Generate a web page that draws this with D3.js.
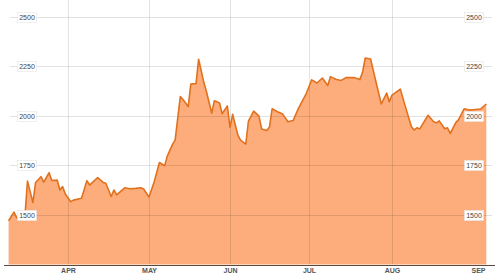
<!DOCTYPE html>
<html>
<head>
<meta charset="utf-8">
<script src="https://cdn.jsdelivr.net/npm/d3@7"></script>
<style>
  body { margin: 0; background: #fff; }
  text { font-family: "Liberation Sans", Arial, sans-serif; }
</style>
</head>
<body>
<div id="chart"></div>
<script>
// daily closes
const dates = [
  "2013-03-10","2013-03-12","2013-03-13","2013-03-16","2013-03-17","2013-03-19","2013-03-20","2013-03-22",
  "2013-03-23","2013-03-25","2013-03-26","2013-03-28","2013-03-29","2013-03-30","2013-03-31","2013-04-02",
  "2013-04-03","2013-04-06","2013-04-08","2013-04-09","2013-04-11","2013-04-12","2013-04-14","2013-04-15",
  "2013-04-17","2013-04-18","2013-04-19","2013-04-22","2013-04-24","2013-04-26","2013-04-28","2013-04-29",
  "2013-05-01","2013-05-03","2013-05-05","2013-05-07","2013-05-08","2013-05-10","2013-05-11","2013-05-13",
  "2013-05-14","2013-05-16","2013-05-17","2013-05-19","2013-05-20","2013-05-22","2013-05-23","2013-05-25",
  "2013-05-26","2013-05-28","2013-05-29","2013-05-31","2013-06-01","2013-06-02","2013-06-04","2013-06-05",
  "2013-06-07","2013-06-08","2013-06-10","2013-06-12","2013-06-13","2013-06-15","2013-06-16","2013-06-17",
  "2013-06-19","2013-06-21","2013-06-23","2013-06-25","2013-06-27","2013-06-30","2013-07-02","2013-07-04",
  "2013-07-06","2013-07-08","2013-07-09","2013-07-11","2013-07-13","2013-07-15","2013-07-18","2013-07-20",
  "2013-07-21","2013-07-22","2013-07-24","2013-07-26","2013-07-28","2013-07-30","2013-07-31","2013-08-01",
  "2013-08-04","2013-08-06","2013-08-08","2013-08-09","2013-08-10","2013-08-11","2013-08-14","2013-08-16",
  "2013-08-17","2013-08-18","2013-08-20","2013-08-21","2013-08-22","2013-08-24","2013-08-25","2013-08-27",
  "2013-08-29","2013-08-31","2013-09-02","2013-09-04"
];
const values = [
  1471,1514,1485,1485,1671,1563,1664,1693,
  1666,1713,1674,1676,1626,1643,1606,1567,
  1575,1584,1673,1651,1676,1689,1664,1660,
  1593,1626,1601,1637,1632,1634,1637,1631,
  1591,1668,1765,1749,1797,1856,1878,2098,
  2083,2047,2161,2163,2286,2168,2122,2014,
  2076,2065,2011,2050,1942,2008,1903,1878,
  1858,1974,2024,1999,1934,1926,1944,2036,
  2021,2009,1970,1977,2038,2114,2182,2166,
  2191,2153,2198,2185,2179,2194,2193,2183,
  2220,2292,2287,2172,2060,2115,2071,2105,
  2135,2038,1945,1929,1940,1934,2003,1970,
  1965,1975,1935,1940,1912,1966,1981,2036,
  2029,2032,2035,2060
];
const yTicks = [1500, 1750, 2000, 2250, 2500];
const monthLabels = ["APR", "MAY", "JUN", "JUL", "AUG", "SEP"];
const monthDates = ["2013-04-01","2013-05-01","2013-06-01","2013-07-01","2013-08-01","2013-09-01"];

const width = 500, height = 277;
const parse = d3.timeParse("%Y-%m-%d");
const data = dates.map((d, i) => ({ date: parse(d), value: values[i] }));
const months = monthDates.map(parse);

// month spacing in the original is not quite even
const x = d3.scaleTime()
  .domain(months)
  .range([68, 149, 230, 309, 392, 478]);

const y = d3.scaleLinear()
  .domain([1250, 2500])
  .range([264.5, 16.8]);

const svg = d3.select("#chart").append("svg")
  .attr("width", width)
  .attr("height", height);

// area
const area = d3.area()
  .x(d => x(d.date))
  .y0(y(1250))
  .y1(d => y(d.value));

svg.append("path")
  .datum(data)
  .attr("d", area)
  .attr("fill", "#fdad7b");

// grid on top of the fill, semi transparent
const grid = svg.append("g").attr("stroke", "rgba(0,0,0,0.11)").attr("stroke-width", 1);
grid.selectAll("line.h")
  .data(yTicks)
  .join("line")
  .attr("class", "h")
  .attr("x1", 10).attr("x2", 492)
  .attr("y1", d => Math.round(y(d)) + 0.5)
  .attr("y2", d => Math.round(y(d)) + 0.5);
grid.selectAll("line.v")
  .data(months.slice(0, 5))
  .join("line")
  .attr("class", "v")
  .attr("x1", d => Math.round(x(d)) + 0.5)
  .attr("x2", d => Math.round(x(d)) + 0.5)
  .attr("y1", 0).attr("y2", 264);

// line
const line = d3.line()
  .x(d => x(d.date))
  .y(d => y(d.value));

svg.append("path")
  .datum(data)
  .attr("d", line)
  .attr("fill", "none")
  .attr("stroke", "#e2711d")
  .attr("stroke-width", 1.6)
  .attr("stroke-linejoin", "round");

// y labels in little white boxes, both sides
[27, 474].forEach(cx => {
  const g = svg.append("g").selectAll("g")
    .data(yTicks)
    .join("g")
    .attr("transform", d => `translate(${cx},${Math.round(y(d))})`);
  g.append("rect")
    .attr("x", -9.5).attr("y", -4.5)
    .attr("width", 19).attr("height", 10)
    .attr("fill", "#fff")
    .attr("stroke", "#e4e4e4")
    .attr("stroke-width", 0.6);
  g.append("text")
    .attr("text-anchor", "middle")
    .attr("y", 3)
    .attr("font-size", 7)
    .attr("fill", "#444")
    .text(d => d);
});

// x axis
const xAxis = d3.axisBottom(x)
  .tickValues(months)
  .tickSize(0)
  .tickPadding(3)
  .tickFormat((d, i) => monthLabels[i]);

const ax = svg.append("g")
  .attr("transform", "translate(0,265)")
  .call(xAxis);
ax.select(".domain").remove();
ax.selectAll("text")
  .attr("font-size", 7)
  .attr("font-weight", "bold")
  .attr("fill", "#555")
  .style("font-family", "'Liberation Sans', Arial, sans-serif");

svg.append("line")
  .attr("x1", 4).attr("x2", 495)
  .attr("y1", 265.5).attr("y2", 265.5)
  .attr("stroke", "#5a4a40")
  .attr("stroke-width", 1);
</script>
</body>
</html>
